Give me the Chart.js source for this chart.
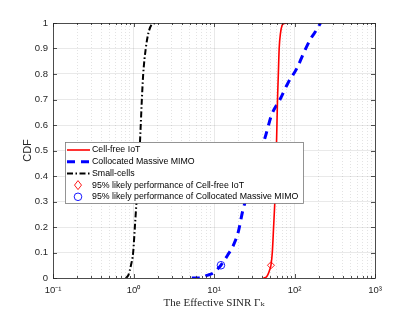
<!DOCTYPE html>
<html>
<head>
<meta charset="utf-8">
<script src="https://cdn.jsdelivr.net/npm/chart.js@4.4.1/dist/chart.umd.min.js"></script>
<style>
  html, body { margin: 0; padding: 0; background: #fff; }
  #wrap { width: 415px; height: 312px; }
</style>
</head>
<body>
<div id="wrap"><canvas id="cdf"></canvas></div>
<script>
// values
const cellFreeSinr = [41, 45, 47, 49, 51, 53, 55, 57, 58.5, 59.5, 60.5, 61.5, 63, 64.5, 67, 70, 74, 80];
const cellFreeCdf = [0, 0.005, 0.015, 0.03, 0.05, 0.1, 0.2, 0.3, 0.4, 0.5, 0.6, 0.7, 0.8, 0.9, 0.96, 0.99, 0.998, 1];

const collocatedSinr = [5.3, 6.8, 8.2, 9.8, 12.2, 14.8, 17.5, 20, 23, 27, 31, 36, 43, 52, 66, 83, 106, 138, 160, 190, 210];
const collocatedCdf = [0, 0, 0.01, 0.02, 0.05, 0.09, 0.13, 0.18, 0.27, 0.34, 0.41, 0.48, 0.55, 0.64, 0.7, 0.765, 0.82, 0.9, 0.94, 0.975, 1];

const smallCellSinr = [0.8, 0.86, 0.93, 0.99, 1.04, 1.09, 1.14, 1.19, 1.23, 1.27, 1.32, 1.42, 1.53, 1.7, 1.95];
const smallCellCdf = [0, 0.01, 0.05, 0.1, 0.2, 0.3, 0.4, 0.5, 0.6, 0.7, 0.8, 0.9, 0.96, 0.995, 1];

const likelyCdf = 0.05;
const cellFreeLikelySinr = 51;
const collocatedLikelySinr = 12.2;

const xMajorTicks = [0.1, 1, 10, 100, 1000];
const xTickLabels = ["10\u207B\u00B9", "10\u2070", "10\u00B9", "10\u00B2", "10\u00B3"];
const yTickLabels = ["0", "0.1", "0.2", "0.3", "0.4", "0.5", "0.6", "0.7", "0.8", "0.9", "1"];

const axisColor = "#262626";
const tickFont = { family: "'Liberation Sans', Arial, sans-serif", size: 9.5 };

const toPoints = (xs, ys) => xs.map((x, i) => ({ x: x, y: ys[i] }));

// inward MATLAB-style ticks and the box
const framePlugin = {
  id: "frame",
  afterDatasetsDraw(chart) {
    const { ctx, chartArea: a, scales } = chart;
    ctx.save();
    ctx.strokeStyle = axisColor;
    ctx.lineWidth = 0.8;
    ctx.beginPath();
    scales.x.ticks.forEach((t) => {
      const px = Math.round(scales.x.getPixelForValue(t.value)) + 0.5;
      const len = t.major ? 4 : 2;
      ctx.moveTo(px, a.bottom);
      ctx.lineTo(px, a.bottom - len);
      ctx.moveTo(px, a.top);
      ctx.lineTo(px, a.top + len);
    });
    scales.y.ticks.forEach((t) => {
      const py = Math.round(scales.y.getPixelForValue(t.value)) + 0.5;
      ctx.moveTo(a.left, py);
      ctx.lineTo(a.left + 4, py);
      ctx.moveTo(a.right, py);
      ctx.lineTo(a.right - 4, py);
    });
    ctx.stroke();
    ctx.strokeRect(Math.round(a.left) + 0.5, Math.round(a.top) + 0.5, Math.round(a.width), Math.round(a.height));
    ctx.restore();
  },
};

// legend box inside the axes, lower left
const legendPlugin = {
  id: "boxLegend",
  afterDraw(chart) {
    const ctx = chart.ctx;
    const box = { x: 65, y: 142, w: 238, h: 61 };
    ctx.save();
    ctx.fillStyle = "#fff";
    ctx.fillRect(box.x, box.y, box.w, box.h);
    ctx.strokeStyle = "#7a7a7a";
    ctx.lineWidth = 0.8;
    ctx.strokeRect(box.x + 0.5, box.y + 0.5, box.w, box.h);
    ctx.font = "8.8px 'Liberation Sans', Arial, sans-serif";
    ctx.textBaseline = "middle";
    chart.data.datasets.forEach((ds, i) => {
      const y = box.y + 8 + i * 11.7;
      if (ds.showLine) {
        ctx.strokeStyle = ds.borderColor;
        ctx.lineWidth = ds.borderWidth;
        ctx.setLineDash(ds.borderDash || []);
        ctx.beginPath();
        ctx.moveTo(67, y);
        ctx.lineTo(90, y);
        ctx.stroke();
        ctx.setLineDash([]);
      } else {
        ctx.strokeStyle = ds.borderColor;
        ctx.lineWidth = 0.9;
        ctx.beginPath();
        if (ds.pointStyle === "rectRot") {
          ctx.moveTo(78, y - 4.5);
          ctx.lineTo(81.5, y);
          ctx.lineTo(78, y + 4.5);
          ctx.lineTo(74.5, y);
          ctx.closePath();
        } else {
          ctx.arc(78, y, 3.8, 0, Math.PI * 2);
        }
        ctx.stroke();
      }
      ctx.fillStyle = "#000";
      ctx.fillText(ds.label, 92, y);
    });
    ctx.restore();
  },
};

new Chart(document.getElementById("cdf"), {
  type: "scatter",
  data: {
    datasets: [
      {
        label: "Cell-free IoT",
        data: toPoints(cellFreeSinr, cellFreeCdf),
        showLine: true,
        borderColor: "#ff0000",
        borderWidth: 1.6,
        pointRadius: 0,
        cubicInterpolationMode: "monotone",
      },
      {
        label: "Collocated Massive MIMO",
        data: toPoints(collocatedSinr, collocatedCdf),
        showLine: true,
        borderColor: "#0000ff",
        borderWidth: 3,
        borderDash: [8, 6],
        pointRadius: 0,
        cubicInterpolationMode: "monotone",
      },
      {
        label: "Small-cells",
        data: toPoints(smallCellSinr, smallCellCdf),
        showLine: true,
        borderColor: "#000000",
        borderWidth: 2,
        borderDash: [6, 2.5, 1.5, 2.5],
        pointRadius: 0,
        cubicInterpolationMode: "monotone",
      },
      {
        label: "95% likely performance of Cell-free IoT",
        data: [{ x: cellFreeLikelySinr, y: likelyCdf }],
        showLine: false,
        pointStyle: "rectRot",
        pointRadius: 3.5,
        borderColor: "#ff0000",
        backgroundColor: "rgba(0,0,0,0)",
        borderWidth: 0.9,
      },
      {
        label: "95% likely performance of Collocated Massive MIMO",
        data: [{ x: collocatedLikelySinr, y: likelyCdf }],
        showLine: false,
        pointStyle: "circle",
        pointRadius: 3.8,
        borderColor: "#0000ff",
        backgroundColor: "rgba(0,0,0,0)",
        borderWidth: 0.9,
      },
    ],
  },
  options: {
    responsive: true,
    maintainAspectRatio: false,
    animation: false,
    devicePixelRatio: 1,
    layout: { padding: { top: 23, right: 40, left: 0, bottom: 0 } },
    plugins: { legend: { display: false }, tooltip: { enabled: false } },
    scales: {
      x: {
        type: "logarithmic",
        min: 0.1,
        max: 1000,
        afterFit: (s) => { s.height = 34; },
        afterBuildTicks: (s) => {
          const ticks = [];
          xMajorTicks.forEach((m, i) => {
            ticks.push({ value: m, major: true });
            if (i < xMajorTicks.length - 1) {
              for (let k = 2; k <= 9; k++) ticks.push({ value: +(m * k).toPrecision(3), major: false });
            }
          });
          s.ticks = ticks;
        },
        grid: {
          drawTicks: false,
          color: (c) => (c.tick && c.tick.major ? "rgba(0,0,0,0.11)" : "rgba(0,0,0,0.14)"),
          lineWidth: 0.8,
        },
        border: {
          display: false,
          dash: (c) => (c.tick && !c.tick.major ? [1, 2] : []),
        },
        ticks: {
          autoSkip: false,
          maxRotation: 0,
          padding: 7,
          color: axisColor,
          font: tickFont,
          callback: (v) => {
            const i = xMajorTicks.indexOf(v);
            return i >= 0 ? xTickLabels[i] : "";
          },
        },
        title: {
          display: true,
          text: "The Effective SINR \u0393\u2096",
          color: axisColor,
          font: { family: "'Liberation Serif', 'DejaVu Serif', serif", size: 11 },
          padding: { top: 0, bottom: 2 },
        },
      },
      y: {
        min: 0,
        max: 1,
        afterFit: (s) => { s.width = 53; },
        grid: { drawTicks: false, color: "rgba(0,0,0,0.11)", lineWidth: 0.8 },
        border: { display: false },
        ticks: {
          stepSize: 0.1,
          padding: 5,
          color: axisColor,
          font: tickFont,
          callback: (v, i) => yTickLabels[i],
        },
        title: {
          display: true,
          text: "CDF",
          color: axisColor,
          font: { family: "'Liberation Sans', Arial, sans-serif", size: 11 },
          padding: { top: 21, bottom: 0 },
        },
      },
    },
  },
  plugins: [framePlugin, legendPlugin],
});
</script>
</body>
</html>
